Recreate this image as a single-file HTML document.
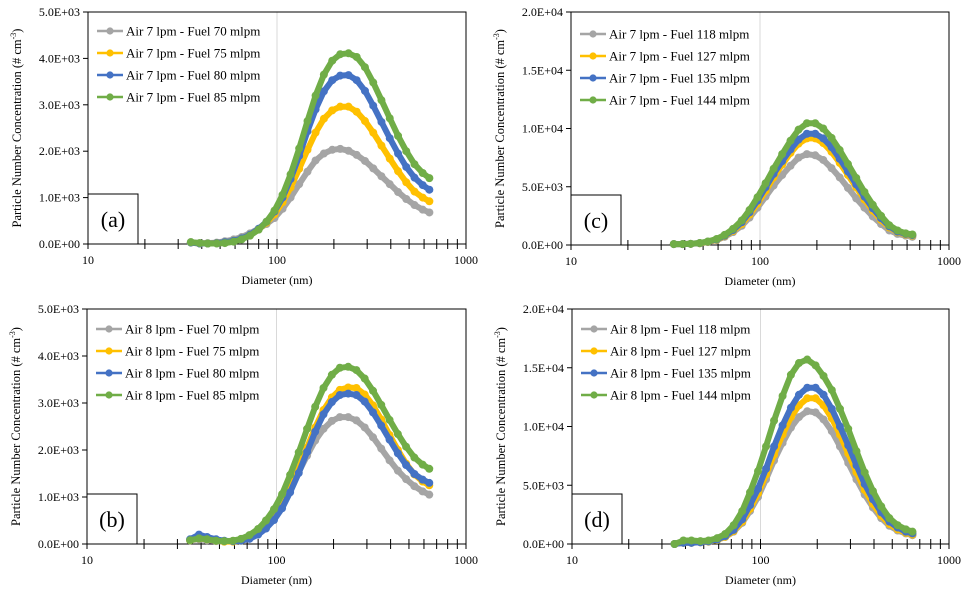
<!DOCTYPE html>
<html><head><meta charset="utf-8"><style>
body{margin:0;background:#fff;}
svg{display:block;font-family:"Liberation Serif",serif;}
</style></head><body>
<svg id="fig" width="972" height="594" viewBox="0 0 972 594"></svg>
<script>
const diameters=[35,39,43,48,53,59,65,72,80,88,97,107,118,131,145,160,177,196,216,239,264,292,323,357,395,437,483,534,590,640];
const colors=["#A5A5A5","#FFC000","#4472C4","#70AD47"];
const a_gray=[40,20,20,30,60,100,150,230,330,430,560,760,1000,1290,1560,1800,1950,2030,2050,2010,1920,1790,1630,1460,1290,1120,970,840,740,680];
const a_yellow=[30,10,10,20,40,70,120,200,320,460,640,900,1220,1620,2030,2400,2700,2880,2960,2960,2850,2650,2400,2120,1840,1570,1330,1130,1000,920];
const a_blue=[30,10,10,20,40,70,120,200,330,480,700,1000,1400,1900,2430,2900,3290,3530,3630,3640,3530,3300,2980,2630,2280,1950,1660,1430,1270,1170];
const a_green=[40,20,10,10,20,50,100,180,310,480,720,1060,1500,2060,2650,3200,3650,3950,4090,4110,4030,3810,3480,3100,2710,2330,2000,1720,1530,1420];
const b_gray=[80,100,80,60,50,60,100,180,300,450,640,880,1180,1530,1880,2200,2450,2620,2700,2700,2630,2480,2270,2030,1780,1560,1380,1230,1120,1050];
const b_yellow=[80,120,100,70,50,50,70,120,220,370,560,830,1180,1600,2050,2480,2850,3120,3280,3330,3320,3180,2950,2650,2320,2000,1710,1480,1330,1250];
const b_blue=[100,200,150,100,70,60,70,110,200,330,510,760,1100,1510,1960,2390,2760,3020,3170,3200,3170,3030,2800,2520,2220,1930,1680,1490,1370,1300];
const b_green=[80,120,100,70,60,70,110,190,320,500,740,1060,1470,1950,2450,2920,3320,3600,3750,3770,3700,3520,3260,2960,2640,2340,2070,1840,1690,1600];
const c_gray=[80,80,100,150,250,420,700,1100,1650,2350,3200,4150,5100,6000,6800,7500,7800,7700,7300,6600,5800,4900,4000,3200,2450,1800,1250,950,800,700];
const c_yellow=[80,80,100,150,260,450,760,1200,1800,2600,3550,4650,5800,6900,7900,8700,9150,9150,8750,8000,7050,6000,4950,3900,2950,2150,1500,1100,900,800];
const c_blue=[80,80,100,160,280,480,800,1280,1950,2800,3800,4950,6100,7200,8200,9050,9550,9550,9150,8400,7400,6300,5200,4150,3150,2300,1600,1150,950,850];
const c_green=[80,80,100,170,300,520,870,1380,2100,3000,4100,5300,6550,7800,8950,9900,10450,10450,10000,9200,8150,6950,5750,4550,3450,2500,1700,1250,1000,900];
const d_gray=[0,100,100,150,200,350,600,1050,1800,2800,4000,5500,7100,8600,9900,10800,11300,11200,10600,9600,8300,6900,5500,4200,3100,2200,1550,1150,900,750];
const d_yellow=[0,100,100,150,200,350,620,1100,1900,3000,4300,5900,7600,9300,10800,11800,12400,12400,11800,10700,9300,7700,6100,4600,3400,2400,1700,1250,950,800];
const d_blue=[0,100,100,150,220,380,680,1200,2100,3300,4700,6400,8300,10100,11600,12700,13300,13300,12700,11500,10000,8400,6700,5100,3800,2700,1900,1400,1050,900];
const d_green=[0,300,300,250,300,500,850,1600,2800,4400,6200,8300,10500,12600,14400,15400,15700,15200,14300,13100,11500,9800,7900,6100,4500,3200,2200,1600,1250,1050];
const a_labels=["Air 7 lpm - Fuel 70 mlpm","Air 7 lpm - Fuel 75 mlpm","Air 7 lpm - Fuel 80 mlpm","Air 7 lpm - Fuel 85 mlpm"];
const b_labels=["Air 8 lpm - Fuel 70 mlpm","Air 8 lpm - Fuel 75 mlpm","Air 8 lpm - Fuel 80 mlpm","Air 8 lpm - Fuel 85 mlpm"];
const c_labels=["Air 7 lpm - Fuel 118 mlpm","Air 7 lpm - Fuel 127 mlpm","Air 7 lpm - Fuel 135 mlpm","Air 7 lpm - Fuel 144 mlpm"];
const d_labels=["Air 8 lpm - Fuel 118 mlpm","Air 8 lpm - Fuel 127 mlpm","Air 8 lpm - Fuel 135 mlpm","Air 8 lpm - Fuel 144 mlpm"];
const ticks5k=[0,1000,2000,3000,4000,5000];
const tickLabels5k=["0.0E+00","1.0E+03","2.0E+03","3.0E+03","4.0E+03","5.0E+03"];
const ticks20k=[0,5000,10000,15000,20000];
const tickLabels20k=["0.0E+00","5.0E+03","1.0E+04","1.5E+04","2.0E+04"];
const xTicks=[10,100,1000];

const NS="http://www.w3.org/2000/svg";
const svg=document.getElementById('fig');
function el(tag,attrs,parent,text){const e=document.createElementNS(NS,tag);for(const k in attrs)e.setAttribute(k,attrs[k]);if(text!==undefined)e.textContent=text;(parent||svg).appendChild(e);return e;}

function panel(id,x0,x1,y0,y1,ymax,ticks,tlabels,series,labels,tag,legY){
  const g=el('g',{});
  
  
  const sx=d=>x0+(Math.log10(d)-1)/2*(x1-x0);
  const sy=v=>y1-v/ymax*(y1-y0);
  const gl=el('line',{x1:sx(100),x2:sx(100),y1:y0,y2:y1,stroke:'#d9d9d9','stroke-width':1},g);
  
  
  const fr=el('rect',{x:x0,y:y0,width:x1-x0,height:y1-y0,fill:'none',stroke:'#000','stroke-width':1},g);
  
  
  ticks.forEach((t,i)=>{
    el('line',{x1:x0-5,x2:x0,y1:sy(t),y2:sy(t),stroke:'#000'},g);
    const tl=el('text',{x:x0-8,y:sy(t)+4,'text-anchor':'end','font-size':12},g,tlabels[i]);
    
    
  });
  for(let dec=10;dec<1000;dec*=10){for(let m=1;m<=10;m++){const xx=sx(dec*m);el('line',{x1:xx,x2:xx,y1:y1-5,y2:y1+5,stroke:'#000'},g);}}
  xTicks.forEach(t=>{
    const tl=el('text',{x:sx(t),y:y1+20,'text-anchor':'middle','font-size':12},g,String(t));
    
    
  });
  const xt=el('text',{x:(x0+x1)/2,y:y1+40,'text-anchor':'middle','font-size':12},g,'Diameter  (nm)');
  
  
  const yt=el('text',{transform:`translate(${x0-67},${(y0+y1)/2}) rotate(-90)`,'text-anchor':'middle','font-size':12.5},g);
  
  
  yt.appendChild(document.createTextNode('Particle Number Concentration (# cm'));
  el('tspan',{dy:-5,'font-size':8},yt,'-3');
  el('tspan',{dy:5},yt,')');
  series.forEach((vals,si)=>{
    const pts=diameters.map((d,i)=>sx(d).toFixed(1)+','+sy(vals[i]).toFixed(1)).join(' ');
    const pl=el('polyline',{points:pts,fill:'none',stroke:colors[si],'stroke-width':6,'stroke-linejoin':'round','stroke-linecap':'round'},g);
    
    
    diameters.forEach((d,i)=>{
      const c=el('circle',{cx:sx(d),cy:sy(vals[i]),r:4,fill:colors[si]},g);
      
      
    });
  });
  labels.forEach((lb,i)=>{
    const yy=legY+i*22;
    const lg=el('g',{},g);
    
    
    el('line',{x1:x0+9,x2:x0+35,y1:yy,y2:yy,stroke:colors[i],'stroke-width':2.5},lg);
    el('circle',{cx:x0+22,cy:yy,r:3.6,fill:colors[i]},lg);
    el('text',{x:x0+38,y:yy+4.5,'font-size':13},lg,lb);
  });
  const bx=el('rect',{x:x0,y:y1-50,width:50,height:50,fill:'#fff',stroke:'#000'},g);
  
  
  const pl=el('text',{x:x0+25,y:y1-17,'text-anchor':'middle','font-size':22},g,tag);
  
  
}
panel('a',88,466,12,244,5000,ticks5k,tickLabels5k,[a_gray,a_yellow,a_blue,a_green],a_labels,'(a)',31);
panel('b',87,466,309,544,5000,ticks5k,tickLabels5k,[b_gray,b_yellow,b_blue,b_green],b_labels,'(b)',329);
panel('c',571,949,12,245,20000,ticks20k,tickLabels20k,[c_gray,c_yellow,c_blue,c_green],c_labels,'(c)',34);
panel('d',572,949,309,544,20000,ticks20k,tickLabels20k,[d_gray,d_yellow,d_blue,d_green],d_labels,'(d)',329);
</script>
</body></html>
